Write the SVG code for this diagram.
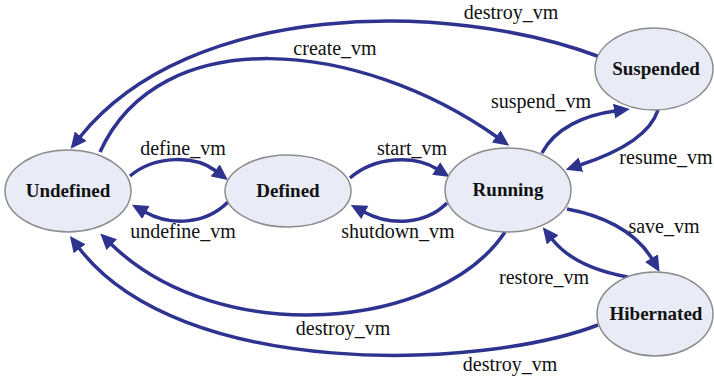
<svg xmlns="http://www.w3.org/2000/svg" width="714" height="381" viewBox="0 0 714 381">
<style>
.node{fill:#e9ecf6;stroke:#8c8c8c;stroke-width:1.5}
.nl{font-family:"Liberation Serif",serif;font-weight:bold;font-size:19px;fill:#111;text-anchor:middle}
.el{font-family:"Liberation Serif",serif;font-size:20px;fill:#111;text-anchor:middle}
.e{fill:none;stroke:#2e3390;stroke-width:3.5}
</style>
<defs>
<marker id="ah" markerUnits="userSpaceOnUse" markerWidth="18" markerHeight="16" refX="1" refY="7.5" orient="auto">
<path d="M0,0 L16,7.5 L0,15 z" fill="#2e3390"/>
</marker>
</defs>
<rect width="714" height="381" fill="#fff"/>
<g id="connectors">
<path class="e" marker-end="url(#ah)" d="M600,57 C450,0 190,0 80,137"/>
<path class="e" marker-end="url(#ah)" d="M100,152 C160,20 360,40 497,137"/>
<path class="e" marker-end="url(#ah)" d="M130,176 C155,155 195,155 216,171"/>
<path class="e" marker-end="url(#ah)" d="M228,202 C205,225 170,226 145,212"/>
<path class="e" marker-end="url(#ah)" d="M350,178 C375,156 415,155 437,169"/>
<path class="e" marker-end="url(#ah)" d="M447,203 C425,225 390,226 364,212"/>
<path class="e" marker-end="url(#ah)" d="M542,153 C555,128 585,115 615,111"/>
<path class="e" marker-end="url(#ah)" d="M658,110 C650,135 620,152 580,165"/>
<path class="e" marker-end="url(#ah)" d="M567,209 C600,215 635,230 652,259"/>
<path class="e" marker-end="url(#ah)" d="M628,277 C600,272 570,262 552,239"/>
<path class="e" marker-end="url(#ah)" d="M505,232 C440,330 220,350 111,244"/>
<path class="e" marker-end="url(#ah)" d="M598,325 C480,370 180,380 79,248"/>
</g>
<g id="edge-labels">
<text class="el" x="511" y="19">destroy_vm</text>
<text class="el" x="335" y="55">create_vm</text>
<text class="el" x="183" y="155">define_vm</text>
<text class="el" x="183" y="238">undefine_vm</text>
<text class="el" x="412" y="155">start_vm</text>
<text class="el" x="398" y="238">shutdown_vm</text>
<text class="el" x="541" y="108">suspend_vm</text>
<text class="el" x="666" y="164">resume_vm</text>
<text class="el" x="664" y="233">save_vm</text>
<text class="el" x="544" y="284">restore_vm</text>
<text class="el" x="343" y="335">destroy_vm</text>
<text class="el" x="510" y="371">destroy_vm</text>
</g>
<g id="undefined"><ellipse class="node" cx="68" cy="191" rx="63" ry="41"/><text class="nl" x="68" y="197">Undefined</text></g>
<g id="defined"><ellipse class="node" cx="288" cy="191" rx="63" ry="36"/><text class="nl" x="288" y="197">Defined</text></g>
<g id="running"><ellipse class="node" cx="508" cy="190" rx="63" ry="42"/><text class="nl" x="508" y="196">Running</text></g>
<g id="suspended"><ellipse class="node" cx="654" cy="69" rx="59" ry="41"/><text class="nl" x="656" y="75">Suspended</text></g>
<g id="hibernated"><ellipse class="node" cx="655" cy="314" rx="58" ry="42"/><text class="nl" x="656" y="320">Hibernated</text></g>
</svg>
